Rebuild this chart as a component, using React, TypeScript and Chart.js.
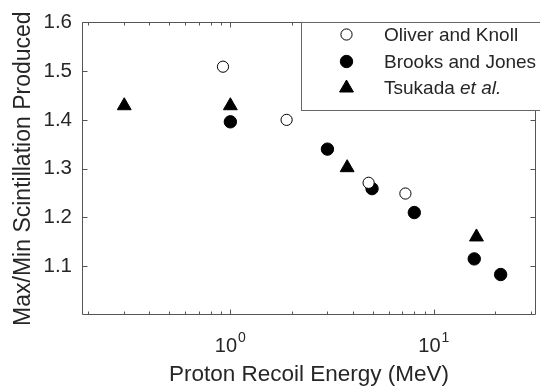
import React, { useEffect, useRef } from "react";
import { Chart, registerables } from "chart.js";

Chart.register(...registerables);

const OLIVER_X = [0.92, 1.89, 4.78, 7.25];
const OLIVER_Y = [1.509, 1.4, 1.271, 1.249];
const BROOKS_X = [1.0, 3.0, 4.97, 8.02, 15.8, 21.3];
const BROOKS_Y = [1.396, 1.34, 1.259, 1.21, 1.115, 1.083];
const TSUKADA_X = [0.301, 1.0, 3.75, 16.2];
const TSUKADA_Y = [1.429, 1.429, 1.302, 1.16];

const SERIES_NAMES = ["Oliver and Knoll", "Brooks and Jones", "Tsukada "];
const X_MAJOR_TICKS = [1, 10];
const X_MINOR_TICKS = [0.2, 0.3, 0.4, 0.5, 0.6, 0.7, 0.8, 0.9, 2, 3, 4, 5, 6, 7, 8, 9, 20, 30];
const Y_TICKS = [1.1, 1.2, 1.3, 1.4, 1.5, 1.6];

const X_TITLE = "Proton Recoil Energy (MeV)";
const Y_TITLE = "Max/Min Scintillation Produced";

const FONT = "'Liberation Sans', Arial, Helvetica, sans-serif";
const TEXT = "#262626";
const AXIS = "#555555";

const toPts = (xs: number[], ys: number[]) => xs.map((x, i) => ({ x, y: ys[i] }));

function drawMarker(ctx: CanvasRenderingContext2D, style: string, r: number, x: number, y: number, fill: string, stroke: string, bw: number) {
  ctx.save();
  ctx.fillStyle = fill;
  ctx.strokeStyle = stroke;
  ctx.lineWidth = bw;
  ctx.beginPath();
  if (style === "triangle") {
    let rad = 0;
    ctx.moveTo(x + Math.sin(rad) * r, y - Math.cos(rad) * r);
    rad += (2 * Math.PI) / 3;
    ctx.lineTo(x + Math.sin(rad) * r, y - Math.cos(rad) * r);
    rad += (2 * Math.PI) / 3;
    ctx.lineTo(x + Math.sin(rad) * r, y - Math.cos(rad) * r);
    ctx.closePath();
  } else {
    ctx.arc(x, y, r, 0, Math.PI * 2);
  }
  ctx.fill();
  ctx.stroke();
  ctx.restore();
}

const decorPlugin = {
  id: "decor",
  afterDraw(chart: any) {
    const { ctx, chartArea: a, scales } = chart;
    const x = scales.x;
    const y = scales.y;
    ctx.save();
    ctx.strokeStyle = AXIS;
    ctx.lineWidth = 1;
    const L = Math.round(a.left) + 0.5;
    const R = Math.round(a.right) - 0.5;
    const T = Math.round(a.top) + 0.5;
    const B = Math.round(a.bottom) - 0.5;
    ctx.beginPath();
    ctx.rect(L, T, R - L, B - T);
    ctx.stroke();
    ctx.beginPath();
    const xt = (v: number, len: number) => {
      const px = Math.round(x.getPixelForValue(v)) + 0.5;
      ctx.moveTo(px, B);
      ctx.lineTo(px, B - len);
      ctx.moveTo(px, T);
      ctx.lineTo(px, T + len);
    };
    X_MAJOR_TICKS.forEach((v) => xt(v, 5));
    X_MINOR_TICKS.forEach((v) => xt(v, 3));
    Y_TICKS.forEach((v) => {
      const py = Math.round(y.getPixelForValue(v)) + 0.5;
      ctx.moveTo(L, py);
      ctx.lineTo(L + 5, py);
      ctx.moveTo(R, py);
      ctx.lineTo(R - 5, py);
    });
    ctx.stroke();

    // x tick labels 10^n
    ctx.fillStyle = TEXT;
    ctx.textBaseline = "alphabetic";
    ctx.textAlign = "left";
    X_MAJOR_TICKS.forEach((v) => {
      const px = x.getPixelForValue(v);
      const exp = String(Math.round(Math.log10(v)));
      ctx.font = `20px ${FONT}`;
      const w1 = ctx.measureText("10").width;
      ctx.font = `14px ${FONT}`;
      const w2 = ctx.measureText(exp).width;
      const start = px - (w1 + w2 + 1) / 2;
      ctx.font = `20px ${FONT}`;
      ctx.fillText("10", start, 351.5);
      ctx.font = `14px ${FONT}`;
      ctx.fillText(exp, start + w1 + 1, 341.5);
    });

    // legend
    const bx = 301.5;
    const by = T;
    const bw = 300;
    const bh = 104 - 16;
    ctx.fillStyle = "#ffffff";
    ctx.fillRect(bx, by, bw, bh);
    ctx.strokeStyle = "#666666";
    ctx.strokeRect(bx, by, bw, bh);
    const rows = [34.5, 61.5, 88];
    const mx = 346.5;
    const tx = 384;
    const ds = chart.data.datasets;
    rows.forEach((ry, i) => {
      const d = ds[i];
      drawMarker(ctx, d.pointStyle, d.pointRadius, mx, ry, d.backgroundColor, d.borderColor, d.borderWidth);
      ctx.fillStyle = TEXT;
      ctx.textBaseline = "middle";
      ctx.font = `19px ${FONT}`;
      ctx.fillText(SERIES_NAMES[i], tx, ry + 1);
      if (i === 2) {
        const w = ctx.measureText(SERIES_NAMES[i]).width;
        ctx.font = `italic 19px ${FONT}`;
        ctx.fillText("et al.", tx + w, ry + 1);
      }
    });
    ctx.restore();
  },
};

export default function App() {
  const ref = useRef<HTMLCanvasElement>(null);
  useEffect(() => {
    if (!ref.current) return;
    const chart = new Chart(ref.current, {
      type: "scatter",
      data: {
        datasets: [
          {
            label: "Oliver and Knoll",
            data: toPts(OLIVER_X, OLIVER_Y),
            pointStyle: "circle",
            pointRadius: 5.6,
            backgroundColor: "#ffffff",
            borderColor: "#000000",
            borderWidth: 1,
          },
          {
            label: "Brooks and Jones",
            data: toPts(BROOKS_X, BROOKS_Y),
            pointStyle: "circle",
            pointRadius: 6.2,
            backgroundColor: "#000000",
            borderColor: "#000000",
            borderWidth: 1,
          },
          {
            label: "Tsukada et al.",
            data: toPts(TSUKADA_X, TSUKADA_Y),
            pointStyle: "triangle",
            pointRadius: 8,
            backgroundColor: "#000000",
            borderColor: "#000000",
            borderWidth: 1,
          },
        ] as any,
      },
      options: {
        responsive: false,
        animation: false,
        layout: { padding: { top: 16, right: 4, left: 0, bottom: 0 } },
        plugins: { legend: { display: false }, tooltip: { enabled: false } },
        scales: {
          x: {
            type: "logarithmic",
            min: 0.1866,
            max: 31.78,
            grid: { display: false, drawTicks: false },
            border: { display: false },
            ticks: { display: false },
            title: {
              display: true,
              text: X_TITLE,
              color: TEXT,
              font: { family: FONT, size: 22.5 },
              padding: { top: 0, bottom: 3 },
            },
            afterFit: (s: any) => {
              s.height = 76;
            },
          },
          y: {
            type: "linear",
            min: 1.0,
            max: 1.6,
            grid: { display: false, drawTicks: false },
            border: { display: false },
            ticks: {
              stepSize: 0.1,
              padding: 10,
              color: TEXT,
              font: { family: FONT, size: 20.5 },
              callback: (v: any) => (Number(v) < 1.05 ? "" : Number(v).toFixed(1)),
            },
            title: {
              display: true,
              text: Y_TITLE,
              color: TEXT,
              font: { family: FONT, size: 23 },
              padding: { top: 10, bottom: 0 },
            },
            afterFit: (s: any) => {
              s.width = 82;
            },
          },
        },
      } as any,
      plugins: [decorPlugin],
    });
    return () => chart.destroy();
  }, []);
  return (
    <div style={{ position: "fixed", left: 0, top: 0, width: 540, height: 391, overflow: "hidden", background: "#fff" }}>
      <canvas ref={ref} width={545} height={391} style={{ display: "block" }} />
    </div>
  );
}
